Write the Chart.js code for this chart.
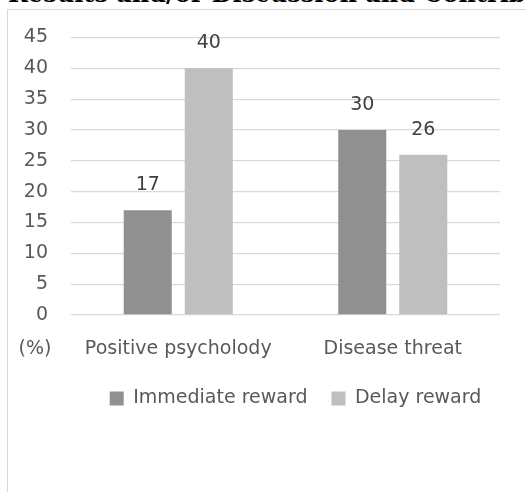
<!DOCTYPE html>
<html>
<head>
<meta charset="utf-8">
<script src="https://cdn.jsdelivr.net/npm/chart.js@4"></script>
<style>
  html, body { margin: 0; padding: 0; background: #fff; overflow: hidden; width: 526px; height: 492px; }
  #heading {
    position: absolute; left: 8px; top: -18px; white-space: nowrap;
    font: bold 24px/24px "DejaVu Serif", serif; color: #000;
  }
  #frame {
    position: absolute; left: 7px; top: 9px; width: 575px; height: 500px;
    border-top: 1px solid #d9d9d9; border-left: 1px solid #d9d9d9;
  }
  canvas { display: block; }
</style>
</head>
<body>
<div id="heading">Results and/or Discussion and Contribution</div>
<div id="frame"><canvas id="chart" width="575" height="480"></canvas></div>
<script>
// categories, series and axis settings
const categories = ['Positive psycholody', 'Disease threat'];
const immediateReward = [17, 30];
const delayReward = [40, 26];
const yTicks = [0, 5, 10, 15, 20, 25, 30, 35, 40, 45];

const FONT = 'DejaVu Sans';
const FONT_SIZE = 19;
const TEXT_GRAY = '#595959';

// I draw the value above each bar and the "(%)" unit next to the category labels
const barLabels = {
    id: 'barLabels',
    afterDatasetsDraw(chart) {
        const ctx = chart.ctx;
        ctx.save();
        ctx.font = FONT_SIZE + 'px "' + FONT + '"';
        ctx.fillStyle = '#404040';
        ctx.textAlign = 'center';
        ctx.textBaseline = 'middle';
        chart.data.datasets.forEach((ds, i) => {
            chart.getDatasetMeta(i).data.forEach((bar, j) => {
                ctx.fillText(String(ds.data[j]), bar.x, bar.y - 25);
            });
        });
        ctx.fillStyle = TEXT_GRAY;
        ctx.fillText('(%)', 27, chart.chartArea.bottom + 34);
        ctx.restore();
    }
};

new Chart(document.getElementById('chart'), {
    type: 'bar',
    data: {
        labels: categories,
        datasets: [
            { label: 'Immediate reward', data: immediateReward, backgroundColor: '#909090', yAxisID: 'y' },
            { label: 'Delay reward', data: delayReward, backgroundColor: '#bfbfbf', yAxisID: 'y' }
        ]
    },
    options: {
        responsive: false,
        animation: false,
        categoryPercentage: 0.569,
        barPercentage: 0.787,
        layout: { padding: { top: 27.5, right: 0, bottom: 72, left: 0 } },
        plugins: {
            legend: {
                position: 'bottom',
                labels: {
                    font: { family: FONT, size: FONT_SIZE },
                    color: TEXT_GRAY,
                    boxWidth: 14,
                    boxHeight: 14,
                    padding: 24
                }
            },
            tooltip: { enabled: false }
        },
        scales: {
            x: {
                grid: { display: false, drawTicks: false },
                border: { display: false },
                ticks: { font: { family: FONT, size: FONT_SIZE }, color: TEXT_GRAY, padding: 23 },
                afterFit: s => { s.height = 50; }
            },
            y: {
                min: 0,
                max: 45,
                afterBuildTicks: s => { s.ticks = yTicks.map(v => ({ value: v })); },
                grid: { color: '#d9d9d9', lineWidth: 1.3, drawTicks: false },
                border: { display: false },
                ticks: { font: { family: FONT, size: FONT_SIZE }, color: TEXT_GRAY, padding: 23 },
                // tick padding would otherwise push the plot top down
                afterFit: s => { s.width = 63; s.paddingTop = 0; s.paddingBottom = 0; }
            },
            // empty right-hand axis that only reserves space beside the plot
            yRight: {
                position: 'right',
                grid: { display: false },
                border: { display: false },
                ticks: { display: false },
                afterFit: s => { s.width = 83; }
            }
        }
    },
    plugins: [barLabels]
});
</script>
</body>
</html>
